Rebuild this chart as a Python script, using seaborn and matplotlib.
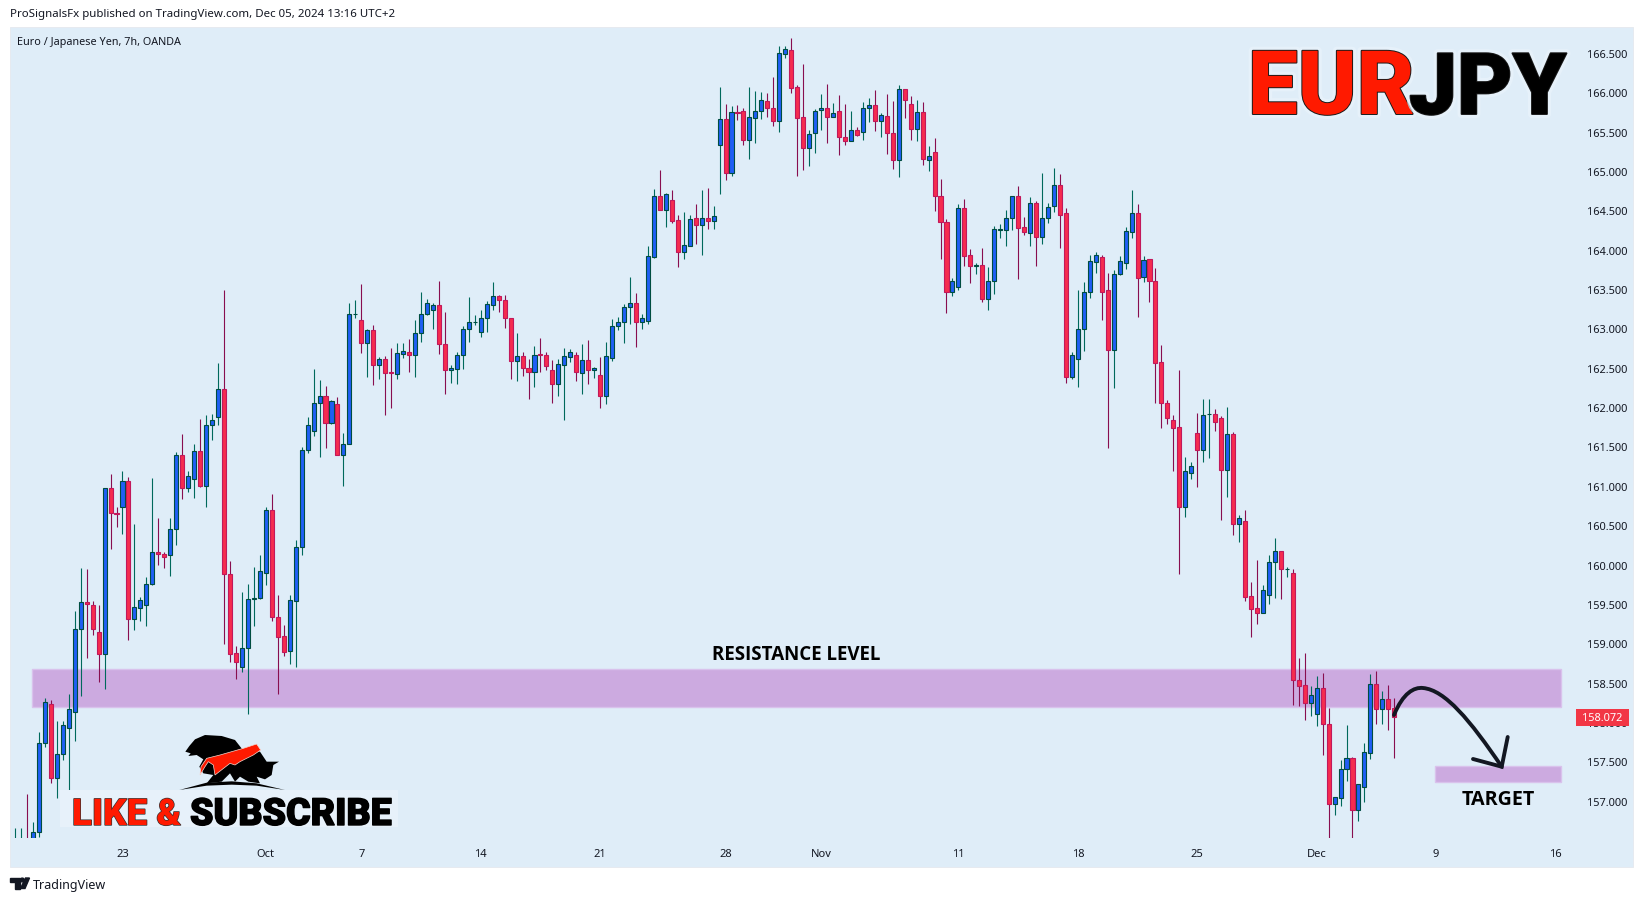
import numpy as np
import pandas as pd
import matplotlib
matplotlib.use("Agg")
import matplotlib.pyplot as plt
import seaborn as sns
from matplotlib.patches import Rectangle, Polygon, PathPatch
from matplotlib.path import Path
from matplotlib.transforms import Affine2D
import matplotlib.patheffects as pe

sides = (
    "BBRBBBRBBB" "BBRRRBRRBR" "BBBBRRBBRB" "BRBBBRRRBB" "BBBRRRBBBB"
    "BBRBRBBBRB" "RBRRBBRBBB" "BRRBBBBBBB" "BRRRBRRBRR" "RBBBRBRBRB"
    "BBBBRBBBRB" "RRBBRBRBBR" "BRRBBBRRBB" "RRRBBBRBRR" "BRBBRBRRBR"
    "RBRBRRRBBR" "RBRBBBBBRR" "BRBBBRRBBB" "BBRRBBBBRB" "RRRRRRBBRB"
    "BRRBRBRRRB" "BBRBRRRBBR" "RBBBRBBBRB" "RR"
)
highs = [
    156.66,156.66,157.10,156.74,157.88,158.32,158.29,158.03,158.03,158.37,
    159.42,159.97,159.96,159.55,159.50,160.99,161.16,160.75,161.20,161.13,
    160.53,159.60,159.85,161.11,160.60,160.17,160.61,161.44,161.67,161.20,
    161.54,161.86,161.91,161.93,162.57,163.50,160.06,158.98,159.66,159.76,
    159.98,160.13,160.75,160.91,159.62,159.24,159.62,160.33,161.50,161.89,
    162.50,162.36,162.28,162.10,162.14,161.69,163.34,163.37,163.58,163.00,
    163.06,162.65,162.66,162.76,162.83,162.83,162.88,163.12,163.48,163.39,
    163.34,163.62,163.22,162.55,162.71,163.05,163.41,163.18,163.25,163.36,
    163.60,163.44,163.44,163.14,162.95,162.71,162.62,162.79,162.89,162.71,
    162.61,162.63,162.76,162.75,162.71,162.81,162.87,162.52,162.65,162.84,
    163.13,163.16,163.32,163.67,163.46,163.20,164.06,164.78,165.03,164.73,
    164.77,164.46,164.49,164.46,164.59,164.77,164.80,164.57,166.08,165.86,
    165.84,165.85,165.81,166.08,166.03,166.02,166.00,166.21,166.60,166.60,
    166.70,166.11,166.37,165.53,165.80,165.99,166.12,165.88,165.98,165.86,
    165.77,165.57,165.89,165.94,166.04,165.75,165.99,165.90,166.10,166.06,
    165.97,165.92,165.89,165.33,165.43,164.91,164.40,163.65,164.59,164.66,
    164.02,163.84,164.04,163.79,164.31,164.34,164.52,164.69,164.82,164.43,
    164.68,164.63,164.99,164.61,165.05,164.97,164.54,162.71,163.50,163.60,
    163.95,163.98,163.95,163.72,163.75,163.93,164.30,164.77,164.59,163.93,
    163.90,163.78,162.80,162.10,161.91,162.49,161.38,161.32,161.94,162.12,
    162.12,161.99,161.90,162.02,161.70,160.64,160.71,159.79,160.07,159.75,
    160.13,160.35,160.18,159.98,159.96,158.83,158.89,158.47,158.60,158.63,
    158.19,157.06,157.53,157.98,157.57,157.22,157.74,158.62,158.66,158.41,
    158.48,158.32,
]
body_tops = [
    156.45,156.45,156.40,156.62,157.74,158.26,158.24,157.60,157.98,158.18,
    159.19,159.54,159.54,159.50,159.15,160.98,160.98,160.67,161.08,161.08,
    159.47,159.56,159.77,160.17,160.17,160.15,160.46,161.41,161.41,161.14,
    161.46,161.46,161.78,161.85,162.24,162.24,159.89,158.89,158.95,159.57,
    159.59,159.93,160.70,160.70,159.35,159.10,159.56,160.24,161.47,161.78,
    162.06,162.15,162.15,162.09,162.05,161.55,163.19,163.20,163.12,162.99,
    162.99,162.62,162.63,162.46,162.70,162.73,162.71,162.95,163.20,163.34,
    163.31,163.31,162.82,162.51,162.68,163.01,163.10,163.10,163.15,163.32,
    163.42,163.42,163.38,163.14,162.66,162.66,162.51,162.68,162.69,162.67,
    162.49,162.56,162.66,162.71,162.68,162.61,162.61,162.51,162.42,162.66,
    163.05,163.10,163.29,163.34,163.34,163.15,163.93,164.70,164.70,164.72,
    164.65,164.39,164.07,164.40,164.42,164.41,164.41,164.44,165.67,165.67,
    165.76,165.76,165.77,165.70,165.77,165.92,165.90,165.82,166.51,166.56,
    166.55,166.08,165.70,165.48,165.78,165.82,165.81,165.75,165.77,165.45,
    165.53,165.53,165.81,165.85,165.85,165.72,165.71,165.50,166.06,166.06,
    165.87,165.76,165.76,165.20,165.25,164.70,164.36,163.61,164.54,164.54,
    163.94,163.82,163.82,163.61,164.27,164.27,164.42,164.69,164.69,164.30,
    164.61,164.61,164.42,164.56,164.84,164.84,164.48,162.68,163.01,163.47,
    163.87,163.94,163.92,163.50,163.71,163.87,164.25,164.48,164.48,163.88,
    163.90,163.61,162.58,162.06,161.85,161.76,161.20,161.26,161.68,161.91,
    161.93,161.93,161.87,161.67,161.67,160.61,160.57,159.61,159.46,159.69,
    160.04,160.18,160.18,159.96,159.90,158.55,158.48,158.36,158.45,158.45,
    157.99,157.06,157.42,157.56,157.55,157.22,157.63,158.50,158.50,158.31,
    158.30,158.19,
]
body_bots = [
    156.30,156.35,156.20,156.30,156.62,157.74,157.30,157.30,157.60,157.94,
    158.14,159.19,159.51,159.20,158.88,158.88,160.67,160.65,160.75,159.32,
    159.32,159.46,159.50,159.77,160.15,160.11,160.13,160.47,160.98,160.98,
    161.10,161.01,161.01,161.78,161.89,159.89,158.88,158.77,158.71,158.95,
    159.57,159.59,159.91,159.35,159.09,158.90,158.91,159.55,160.24,161.47,
    161.71,162.06,161.81,161.81,161.41,161.41,161.55,163.19,162.83,162.83,
    162.55,162.55,162.45,162.45,162.44,162.69,162.68,162.67,162.95,163.20,
    163.25,162.82,162.49,162.49,162.50,162.68,163.01,163.09,162.97,163.15,
    163.31,163.37,163.14,162.60,162.60,162.51,162.46,162.46,162.68,162.54,
    162.31,162.31,162.55,162.65,162.46,162.45,162.48,162.48,162.15,162.15,
    162.64,163.05,163.10,163.29,163.10,163.10,163.11,163.92,164.52,164.52,
    164.38,163.99,163.99,164.06,164.33,164.33,164.38,164.38,165.34,164.99,
    164.99,165.75,165.41,165.41,165.69,165.77,165.82,165.65,165.65,166.50,
    166.07,165.69,165.30,165.30,165.49,165.79,165.70,165.70,165.45,165.40,
    165.40,165.47,165.51,165.81,165.65,165.65,165.50,165.15,165.15,165.91,
    165.55,165.55,165.17,165.15,164.70,164.36,163.48,163.48,163.54,163.93,
    163.81,163.81,163.39,163.39,163.61,164.26,164.26,164.42,164.29,164.24,
    164.23,164.17,164.17,164.42,164.57,164.46,162.40,162.40,162.62,163.01,
    163.47,163.86,163.48,162.74,162.74,163.71,163.85,164.24,163.66,163.67,
    163.61,162.57,162.06,161.88,161.75,160.75,160.74,161.18,161.47,161.47,
    161.92,161.83,161.22,161.21,160.53,160.53,159.60,159.45,159.40,159.40,
    159.62,160.04,159.95,159.95,158.55,158.47,158.25,158.25,158.11,157.99,
    156.97,156.97,157.04,157.42,156.90,156.90,157.18,157.62,158.18,158.18,
    158.18,158.07,
]
lows = [
    156.20,156.25,156.10,156.20,156.55,157.70,157.24,157.05,157.53,157.13,
    157.77,158.34,158.83,159.12,158.52,158.43,160.21,160.49,160.40,159.05,
    159.18,159.30,159.23,159.75,160.01,159.97,159.87,160.26,160.85,160.94,
    160.86,161.00,160.75,161.60,161.79,159.00,158.78,158.56,158.65,158.11,
    159.23,159.58,159.75,159.30,158.37,158.85,158.75,158.71,160.13,161.43,
    161.64,161.38,161.49,161.80,161.40,161.01,161.54,163.15,162.70,162.40,
    162.29,162.37,161.91,162.00,162.37,162.64,162.46,162.40,162.84,163.18,
    163.01,162.69,162.18,162.32,162.31,162.50,162.84,163.06,162.90,162.97,
    163.25,163.22,163.02,162.37,162.34,162.41,162.12,162.27,162.46,162.48,
    162.07,162.15,161.85,162.59,162.34,162.18,162.31,162.38,162.00,162.05,
    162.60,162.99,162.83,163.07,162.78,163.01,163.07,163.91,164.52,164.30,
    164.35,163.79,163.90,164.06,164.09,163.95,164.28,164.28,164.72,164.90,
    164.95,165.66,165.34,165.17,165.37,165.68,165.70,165.58,165.51,166.45,
    166.00,164.95,165.03,165.08,165.24,165.53,165.37,165.70,165.22,165.34,
    165.40,165.46,165.41,165.64,165.52,165.45,165.23,165.04,164.94,165.69,
    165.41,165.40,165.09,165.01,164.50,163.90,163.21,163.42,163.50,163.81,
    163.59,163.70,163.35,163.25,163.45,164.16,164.06,164.26,163.64,164.20,
    164.06,163.81,164.09,164.35,164.49,164.04,162.32,162.37,162.27,162.73,
    163.40,163.72,163.12,161.49,162.26,163.69,163.77,164.16,163.16,163.60,
    163.35,162.07,161.75,161.80,161.20,159.89,160.62,161.10,161.00,161.32,
    161.37,161.71,160.58,160.87,160.39,160.30,159.55,159.09,159.26,159.40,
    159.51,159.59,159.58,159.86,158.23,158.22,158.04,158.09,157.96,157.59,
    156.54,156.83,156.95,157.26,156.54,156.75,156.99,157.54,157.99,157.99,
    157.91,157.55,
]
x_tick_pos = [18, 42, 58, 78, 98, 119, 135, 158, 178, 198, 218, 238, 258]
x_tick_labels = ["23", "Oct", "7", "14", "21", "28", "Nov", "11", "18", "25", "Dec", "9", "16"]
month_labels = {"Oct", "Nov", "Dec"}
price_ticks = [157.0 + 0.5 * k for k in range(20)]
resistance_zone = (158.20, 158.68)
target_zone = (157.25, 157.45)
last_price = 158.072

BG = "#DFEDF8"
ZONE = "#CCAAE0"
ZONE_EDGE = "#D9C2EC"
UP_BODY, UP_EDGE, UP_WICK = "#1F5FF5", "#004D40", "#00695C"
DN_BODY, DN_EDGE, DN_WICK = "#F52C4F", "#C2185B", "#880E4F"
W, H = 1643, 901
INK = "#131722"

sns.set_theme(style="white", rc={"axes.grid": False})
plt.rcParams["font.family"] = ["DejaVu Sans"]

df = pd.DataFrame({"i": np.arange(len(highs)), "side": list(sides), "high": highs,
                   "top": body_tops, "bot": body_bots, "low": lows})
df["height"] = df["top"] - df["bot"]

fig = plt.figure(figsize=(W / 100, H / 100), dpi=100, facecolor="white")
px = Affine2D().scale(1 / W, -1 / H).translate(0, 1) + fig.transFigure
fig.patches.append(Rectangle((10, 27), 1623, 840, transform=px, facecolor=BG, edgecolor="#E6EAF0", lw=0.7, zorder=-5))

ax = fig.add_axes([10 / W, 1 - 838 / H, (1577 - 10) / W, (838 - 27) / H])
ax.set_facecolor("none")

for name, body, edge, wick in [("B", UP_BODY, UP_EDGE, UP_WICK), ("R", DN_BODY, DN_EDGE, DN_WICK)]:
    sub = df[df["side"] == name]
    ax.vlines(sub["i"], sub["low"], sub["high"], color=wick, lw=0.8, zorder=2)
    sns.barplot(data=sub, x="i", y="height", bottom=sub["bot"].to_numpy(), native_scale=True,
                estimator="mean", errorbar=None, width=0.68, color=body, saturation=1,
                edgecolor=edge, linewidth=0.8, ax=ax, zorder=3)

ax.set_xlim(-0.84, 261.6)
ax.set_ylim(156.538, 166.843)
ax.set_xlabel("")
ax.set_ylabel("")
for s in ax.spines.values():
    s.set_visible(False)

for (lo, hi), x0 in [(resistance_zone, 2.9), (target_zone, 237.9)]:
    ax.add_patch(Rectangle((x0, lo), 259 - x0, hi - lo, facecolor=ZONE, edgecolor=ZONE_EDGE, lw=1, zorder=1))

tick_font = "Noto Sans"
ax.yaxis.tick_right()
ax.set_yticks(price_ticks)
ax.set_yticklabels([f"{p:.3f}" for p in price_ticks], fontsize=7.9, color=INK, family=tick_font)
ax.tick_params(axis="y", length=0, pad=7.5)
ax.set_xticks(x_tick_pos)
ax.set_xticklabels(x_tick_labels, fontsize=8, color=INK, family=tick_font)
ax.tick_params(axis="x", length=0, pad=8)
for t in ax.get_xticklabels():
    if t.get_text() in month_labels:
        t.set_fontweight("bold")

# last-price tag
fig.patches.append(Rectangle((1576, 709), 53, 17, transform=px, facecolor="#F23645", edgecolor="none", zorder=5))
fig.text(1602.5, 718.5, f"{last_price:.3f}", transform=px, color="white", fontsize=7.9, family=tick_font,
         ha="center", va="center", zorder=6)

# header and footer
fig.text(10, 14, "ProSignalsFx published on TradingView.com, Dec 05, 2024 13:16 UTC+2", transform=px,
         fontsize=8.25, color=INK, family="Noto Sans", ha="left", va="center")
fig.text(17, 43, "Euro / Japanese Yen, 7h, OANDA", transform=px, fontsize=7.8, color=INK,
         family="Noto Sans", ha="left", va="center")
fig.text(33, 885, "TradingView", transform=px, fontsize=9.0, color=INK, family="Noto Sans", ha="left", va="center")
fig.patches.append(Polygon([(10, 878), (20, 878), (20, 888.5), (15, 888.5), (15, 881.5), (10, 881.5)], transform=px, color=INK))
fig.patches.append(Polygon([(25.5, 878), (29.5, 878), (25, 888.5), (20.5, 888.5)], transform=px, color=INK))
fig.patches.append(plt.Circle((22.3, 880), 1.9, transform=px, color=INK))

# annotations
ax_txt = dict(transform=px, ha="center", va="center", color="black", zorder=8)
fig.text(796.5, 655, "RESISTANCE LEVEL", fontsize=13.5, family="Open Sans", fontweight="bold", **ax_txt)
fig.text(1498, 800, "TARGET", fontsize=14.2, family="Open Sans", fontweight="bold", **ax_txt)

# hand-drawn arrow
verts = [(1394, 715), (1403, 693), (1414, 687), (1423, 688), (1445, 690), (1470, 720), (1501.7, 766.7)]
codes = [Path.MOVETO] + [Path.CURVE4] * 6
fig.patches.append(PathPatch(Path(verts, codes), transform=px, fill=False, edgecolor=INK, lw=2.8, capstyle="round", zorder=7))
fig.patches.append(PathPatch(Path([(1473, 759), (1501.7, 766.7), (1507.7, 737)]), transform=px, fill=False,
                             edgecolor=INK, lw=2.8, capstyle="round", joinstyle="miter", zorder=7))

# EURJPY badge
outl = [pe.withStroke(linewidth=6, foreground="#E9F3FB", alpha=0.7), pe.withStroke(linewidth=1.4, foreground="#1a1a1a")]
fig.text(1248, 114, "EUR", transform=px, fontsize=64, family="Roboto", fontweight="black", color="#FF1A00",
         ha="left", va="baseline", path_effects=outl, zorder=8)
fig.text(1409, 114, "JPY", transform=px, fontsize=61.5, family="Roboto", fontweight="black", color="black",
         ha="left", va="baseline", path_effects=outl, zorder=8)

# logo block
fig.patches.append(Rectangle((60, 790), 338, 37, transform=px, facecolor="#E7F1FA", edgecolor="none", zorder=4))
fig.text(72, 825, "LIKE &", transform=px, fontsize=26.5, family="Roboto", fontweight="black", color="#FF1A00",
         ha="left", va="baseline", zorder=8, path_effects=[pe.withStroke(linewidth=1.0, foreground="#333333")])
fig.text(190, 825, "SUBSCRIBE", transform=px, fontsize=27, family="Roboto", fontweight="black", color="black",
         ha="left", va="baseline", zorder=8, path_effects=[pe.withStroke(linewidth=1.0, foreground="black")])

def logo(pts, **kw):
    fig.patches.append(Polygon([(40 + a / 3, 720 + b / 3) for a, b in pts], transform=px, zorder=8, **kw))

logo([(436, 95), (448, 78), (465, 58), (495, 45), (545, 48), (585, 60), (607, 88), (660, 95), (680, 125), (717, 125),
      (700, 135), (695, 165), (675, 178), (650, 170), (660, 190), (625, 185), (600, 170), (585, 185), (570, 160),
      (545, 185), (500, 190), (520, 165), (490, 160), (478, 140), (490, 118), (470, 105), (445, 108), (452, 100)],
     facecolor="black", edgecolor="none")
logo([(480, 165), (483, 140), (500, 115), (540, 105), (610, 85), (650, 72), (662, 90), (640, 105), (600, 125),
      (585, 135), (570, 130), (525, 165), (520, 135), (505, 125), (495, 140)], facecolor="#FF1A00", edgecolor="#F4D8D0", lw=0.5)
logo([(418, 210), (500, 188), (575, 184), (650, 190), (735, 210), (650, 197), (575, 194), (500, 197)],
     facecolor="black", edgecolor="none")

fig.savefig("out.png", dpi=100, facecolor="white")
